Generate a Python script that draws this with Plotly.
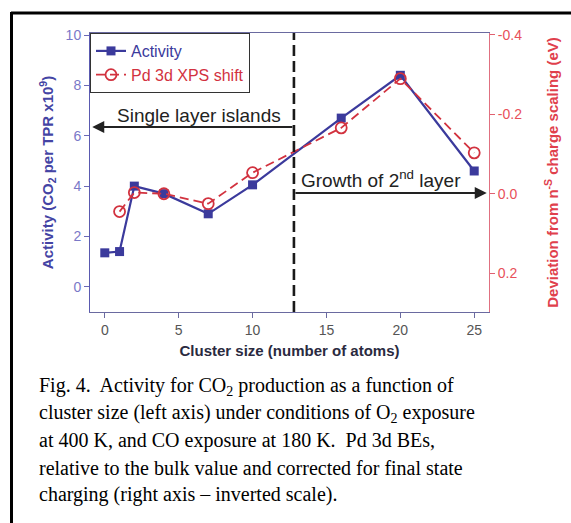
import plotly.graph_objects as go

# Cluster sizes (atoms per cluster)
cluster_size = [0, 1, 2, 4, 7, 10, 16, 20, 25]
activity = [1.35, 1.4, 4.0, 3.7, 2.9, 4.05, 6.7, 8.4, 4.6]

pd_size = [1, 2, 4, 7, 10, 16, 20, 25]
pd_shift = [0.045, -0.003, 0.0, 0.025, -0.053, -0.166, -0.29, -0.103]

left_ticks = [0, 2, 4, 6, 8, 10]
right_ticks = [-0.4, -0.2, 0.0, 0.2]
right_tick_text = ["-0.4", "-0.2", "0.0", "0.2"]
x_ticks = [0, 5, 10, 15, 20, 25]

boundary_size = 12.8

caption = [
    "Fig. 4.  Activity for CO<sub>2</sub> production as a function of",
    "cluster size (left axis) under conditions of O<sub>2</sub> exposure",
    "at 400 K, and CO exposure at 180 K.  Pd 3d BEs,",
    "relative to the bulk value and corrected for final state",
    "charging (right axis – inverted scale).",
]

BLUE = "#3b3a9c"
RED = "#d2323f"

W, H = 571, 523
L, R, T, B = 90, 489, 33, 312


def px(x):
    return (x - L) / (R - L)


def py(y):
    return (B - y) / (B - T)


fig = go.Figure()

fig.add_trace(go.Scatter(
    x=cluster_size, y=activity,
    name=f"<span style='color:{BLUE}'>Activity</span>",
    mode="lines+markers",
    line=dict(color=BLUE, width=2.2),
    marker=dict(symbol="square", size=9, color=BLUE),
))
fig.add_trace(go.Scatter(
    x=pd_size, y=pd_shift, yaxis="y2",
    name=f"<span style='color:{RED}'>Pd 3d XPS shift</span>",
    mode="lines+markers",
    line=dict(color=RED, width=1.8, dash="9px,5px"),
    marker=dict(symbol="circle-open", size=11, color=RED, line=dict(width=1.8)),
))

# 1st / 2nd layer boundary
fig.add_shape(type="line", xref="x", yref="paper", x0=boundary_size, x1=boundary_size,
              y0=0, y1=1, line=dict(color="#1a1a1a", width=2.6, dash="11px,5px"))

# Region arrows
fig.add_annotation(x=-0.85, y=6.35, ax=boundary_size, ay=6.35, xref="x", yref="y",
                   axref="x", ayref="y", text="", showarrow=True,
                   arrowhead=2, arrowsize=1.2, arrowwidth=2, arrowcolor="#222")
fig.add_annotation(x=25.85, y=3.73, ax=boundary_size, ay=3.73, xref="x", yref="y",
                   axref="x", ayref="y", text="", showarrow=True,
                   arrowhead=2, arrowsize=1.2, arrowwidth=2, arrowcolor="#222")
fig.add_annotation(x=px(199), y=py(115), xref="paper", yref="paper",
                   xanchor="center", yanchor="middle",
                   text="Single layer islands", showarrow=False,
                   font=dict(family="Liberation Sans, Arial", size=19, color="#222"))
fig.add_annotation(x=px(381), y=py(179), xref="paper", yref="paper",
                   xanchor="center", yanchor="middle",
                   text="Growth of 2<sup>nd</sup> layer", showarrow=False,
                   font=dict(family="Liberation Sans, Arial", size=19, color="#222"))

# Figure frame
fig.add_shape(type="line", xref="paper", yref="paper", x0=px(11), x1=px(571),
              y0=py(13), y1=py(13), line=dict(color="black", width=3))
fig.add_shape(type="line", xref="paper", yref="paper", x0=px(11.5), x1=px(11.5),
              y0=py(12), y1=py(523), line=dict(color="black", width=3))

# Caption
for i, line in enumerate(caption):
    fig.add_annotation(x=px(37), y=py(386 + 27.2 * i), xref="paper", yref="paper",
                       xanchor="left", yanchor="middle", text=line, showarrow=False,
                       font=dict(family="Liberation Serif, Times New Roman", size=20,
                                 color="black"))

fig.update_layout(
    width=W, height=H,
    margin=dict(l=L, r=W - R, t=T, b=H - B, pad=0),
    paper_bgcolor="white", plot_bgcolor="white",
    font=dict(family="Liberation Sans, Arial"),
    showlegend=True,
    legend=dict(x=0, y=1, xanchor="left", yanchor="top",
                bgcolor="white", bordercolor="#333", borderwidth=1,
                font=dict(size=16, color=BLUE), tracegroupgap=0,
                itemwidth=30),
    xaxis=dict(range=[-1, 26], tickvals=x_ticks, ticks="outside", ticklen=5,
               tickcolor="#6a6aa0", showline=True, linecolor="#6a6aa0", linewidth=1,
               mirror=True, showgrid=False, zeroline=False,
               tickfont=dict(size=14, color="#555"),
               title=dict(text="<b>Cluster size (number of atoms)</b>", standoff=8,
                          font=dict(size=15, color="#2a2a40"))),
    yaxis=dict(range=[-1, 10.08], tickvals=left_ticks, ticks="outside", ticklen=5,
               tickcolor="#6a6ab8", showline=True, linecolor="#5a5ab0", linewidth=1,
               showgrid=False, zeroline=False,
               tickfont=dict(size=14, color="#7a78c8"),
               title=dict(text="<b>Activity (CO<sub>2</sub> per TPR x10<sup>9</sup>)</b>",
                          standoff=8, font=dict(size=15, color="#4444a4"))),
    yaxis2=dict(overlaying="y", side="right", range=[0.298, -0.405],
                tickvals=right_ticks, ticktext=right_tick_text,
                ticks="outside", ticklen=5, tickcolor="#e06070",
                showline=True, linecolor="#e07080", linewidth=1,
                showgrid=False, zeroline=False,
                tickfont=dict(size=14, color="#e8505a"),
                title=dict(text="<b>Deviation from n<sup>-S</sup> charge scaling (eV)</b>",
                           standoff=26, font=dict(size=15, color="#e0404c"))),
)

fig.write_html("out.html")
